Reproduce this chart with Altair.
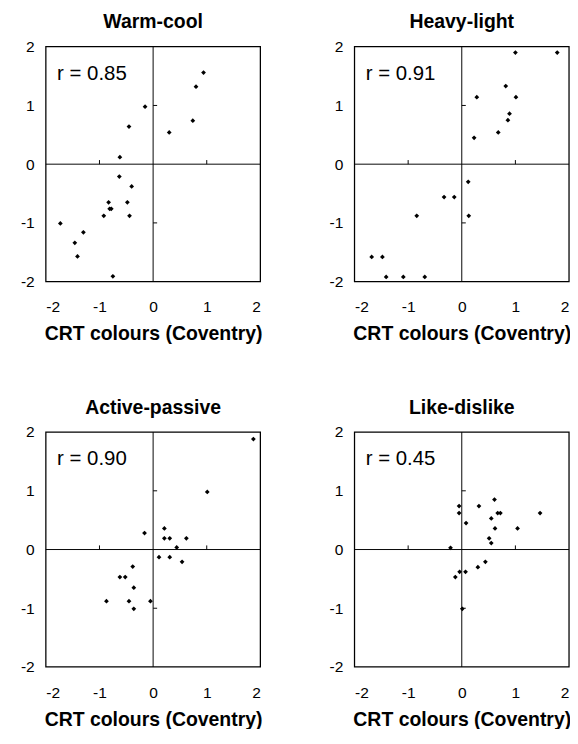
import altair as alt
import pandas as pd

FONT = "Liberation Sans"

titles = ["Warm-cool", "Heavy-light", "Active-passive", "Like-dislike"]
r_labels = ["r = 0.85", "r = 0.91", "r = 0.90", "r = 0.45"]
x_title = "CRT colours (Coventry)"
axis_values = [-2, -1, 0, 1, 2]
inner_ticks = [-1, 1]

# Warm-cool
x1 = [-0.15, -0.45, -0.62, -0.63, -0.40, -0.83, -0.48, -0.81, -0.78, -0.92,
      -0.44, -1.73, -1.30, -1.46, -1.41, -0.75, 0.30, 0.74, 0.80, 0.94]
y1 = [0.98, 0.64, 0.12, -0.21, -0.38, -0.65, -0.65, -0.76, -0.76, -0.88,
      -0.88, -1.01, -1.16, -1.34, -1.57, -1.91, 0.54, 0.74, 1.32, 1.56]

# Heavy-light
x2 = [1.00, 1.78, 0.82, 0.28, 1.01, 0.89, 0.86, 0.68, 0.23, 0.12,
      0.13, -0.33, -0.14, -0.84, -1.68, -1.48, -1.41, -1.09, -0.69]
y2 = [1.90, 1.90, 1.33, 1.14, 1.14, 0.86, 0.75, 0.54, 0.45, -0.30,
      -0.88, -0.56, -0.56, -0.88, -1.58, -1.58, -1.92, -1.92, -1.92]

# Active-passive
x3 = [1.87, 1.01, -0.16, 0.21, 0.21, 0.31, 0.62, 0.44, 0.11, 0.31,
      0.54, -0.38, -0.62, -0.52, -0.36, -0.87, -0.45, -0.05, -0.36]
y3 = [1.88, 0.98, 0.28, 0.36, 0.19, 0.19, 0.19, 0.035, -0.13, -0.13,
      -0.21, -0.29, -0.47, -0.47, -0.65, -0.88, -0.88, -0.88, -1.01]

# Like-dislike
x4 = [0.61, -0.05, 0.32, -0.05, 0.67, 0.72, 1.46, 0.55, 0.08, 0.62,
      1.04, 0.51, 0.55, -0.21, 0.44, 0.30, -0.04, 0.07, -0.12, 0.01]
y4 = [0.85, 0.74, 0.74, 0.62, 0.62, 0.62, 0.62, 0.53, 0.45, 0.36,
      0.36, 0.19, 0.11, 0.03, -0.21, -0.30, -0.38, -0.38, -0.47, -1.01]

series = [(x1, y1), (x2, y2), (x3, y3), (x4, y4)]

W, H = 221, 242
LABEL_EXPR = "datum.value < 0 ? '-' + abs(datum.value) : '' + datum.value"


def panel(xs, ys, title, rlab):
    df = pd.DataFrame({"x": xs, "y": ys})
    xsc = alt.Scale(domain=[-2, 2], nice=False, zero=False)
    ysc = alt.Scale(domain=[-2, 2], nice=False, zero=False)
    xaxis = alt.Axis(values=axis_values, labelExpr=LABEL_EXPR, ticks=False,
                     domain=False, grid=False, labelPadding=18, labelFontSize=16,
                     labelFont=FONT, labelColor="black", title=x_title,
                     titleFont=FONT, titleFontSize=20, titleFontWeight="bold",
                     titleColor="black", titlePadding=10)
    yaxis = alt.Axis(values=axis_values, labelExpr=LABEL_EXPR, ticks=False,
                     domain=False, grid=False, labelPadding=12, labelFontSize=16,
                     labelFont=FONT, labelColor="black", title=None)
    X = alt.X("x:Q", scale=xsc, axis=xaxis)
    Y = alt.Y("y:Q", scale=ysc, axis=yaxis)

    pts = alt.Chart(df).mark_point(shape="diamond", filled=True, size=24,
                                   color="black", opacity=1).encode(x=X, y=Y)
    one = alt.Chart(pd.DataFrame({"k": [0]}))
    frame = one.mark_rect(fillOpacity=0, stroke="black", strokeWidth=1.3).encode(
        x=alt.datum(-2), x2=alt.datum(2), y=alt.datum(-2), y2=alt.datum(2))
    vline = one.mark_rule(color="black", strokeWidth=1).encode(
        x=alt.datum(0), y=alt.datum(-2), y2=alt.datum(2))
    hline = one.mark_rule(color="black", strokeWidth=1).encode(
        y=alt.datum(0), x=alt.datum(-2), x2=alt.datum(2))
    xt = alt.Chart(pd.DataFrame({"x": inner_ticks})).mark_rule(
        color="black", strokeWidth=1).encode(x=X, y=alt.datum(0), y2=alt.datum(0.07))
    yt = alt.Chart(pd.DataFrame({"y": inner_ticks})).mark_rule(
        color="black", strokeWidth=1).encode(y=Y, x=alt.datum(0), x2=alt.datum(0.075))
    txt = one.mark_text(align="left", baseline="middle", fontSize=21, font=FONT,
                        color="black").encode(
        x=alt.datum(-1.79), y=alt.datum(1.54), text=alt.value(rlab))
    return alt.layer(frame, vline, hline, xt, yt, pts, txt).properties(
        width=W, height=H,
        title=alt.TitleParams(title, fontSize=20, fontWeight="bold", font=FONT,
                              color="black", offset=7))


panels = [panel(xs, ys, t, r) for (xs, ys), t, r in zip(series, titles, r_labels)]

top = alt.hconcat(panels[0], panels[1], spacing=68)
bottom = alt.hconcat(panels[2], panels[3], spacing=68)
chart = alt.vconcat(top, bottom, spacing=56).properties(
    padding={"left": 12, "top": -6, "right": -1, "bottom": -11},
    background="white",
).configure_view(strokeWidth=0)

chart.save("out.html", embed_options={"renderer": "svg", "actions": False})
